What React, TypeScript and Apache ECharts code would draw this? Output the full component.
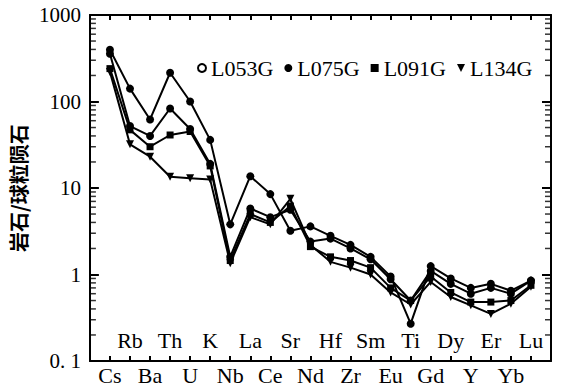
import React, { useEffect, useRef } from "react";
import * as echarts from "echarts";

const elements = ["Cs", "Rb", "Ba", "Th", "U", "K", "Nb", "La", "Ce", "Sr", "Nd", "Hf", "Zr", "Sm", "Eu", "Ti", "Gd", "Dy", "Y", "Er", "Yb", "Lu"];
const seriesNames = ["L053G", "L075G", "L091G", "L134G"];
const yTickLabels: Record<string, string> = { "0.1": "0. 1", "1": "1", "10": "10", "100": "100", "1000": "1000" };
const decades = [0.1, 1, 10, 100];
const minorSteps = [2, 3, 4, 5, 6, 7, 8, 9];

const L053G = [356, 52, 40, 83, 48, 19, 1.6, 5.8, 4.6, 5.6, 2.4, 2.6, 2.0, 1.5, 0.88, 0.5, 1.1, 0.78, 0.6, 0.7, 0.6, 0.85];
const L075G = [397, 141, 62, 215, 100, 36, 3.8, 13.7, 8.5, 3.2, 3.6, 2.8, 2.2, 1.6, 0.95, 0.27, 1.25, 0.9, 0.7, 0.78, 0.65, 0.85];
const L091G = [240, 47, 30, 41, 45, 18, 1.45, 5.0, 4.0, 6.2, 2.1, 1.6, 1.45, 1.2, 0.7, 0.5, 0.95, 0.62, 0.48, 0.48, 0.5, 0.75];
const L134G = [220, 32, 23, 13.5, 13, 12.5, 1.35, 4.6, 3.8, 7.5, 2.2, 1.4, 1.2, 1.0, 0.62, 0.45, 0.82, 0.55, 0.44, 0.35, 0.46, 0.72];

const seriesValues = [L053G, L075G, L091G, L134G];
const symbols = ["circle", "circle", "rect", "triangle"];
const legendIcons = ["emptyCircle", "circle", "rect", "path://M0,0 L10,0 L5,10 Z"];

const FONT = "Liberation Serif";

export default function App() {
  const ref = useRef<HTMLDivElement>(null);
  useEffect(() => {
    const chart = echarts.init(ref.current!, null, { renderer: "svg" });
    const axisLine = { show: true, onZero: false, lineStyle: { color: "#000", width: 2 } };
    const catRich = { s: { fontFamily: FONT, fontSize: 22, color: "#000" } };
    const xBase = {
      type: "value" as const,
      min: -1,
      max: 22,
      interval: 1,
      splitLine: { show: false },
    };
    const minorTickValues: number[] = [];
    decades.forEach((d) => minorSteps.forEach((s) => minorTickValues.push(d * s)));
    const minorTickSeries = (xEdge: number, offset: number) => ({
      name: "minorTicks" + xEdge,
      type: "scatter",
      xAxisIndex: 0,
      yAxisIndex: 0,
      silent: true,
      clip: false,
      z: 10,
      symbol: "rect",
      symbolSize: [6, 1.5],
      symbolOffset: [offset, 0],
      itemStyle: { color: "#000" },
      data: minorTickValues.map((v) => [xEdge, v]),
    });
    chart.setOption({
      animation: false,
      backgroundColor: "#fff",
      textStyle: { fontFamily: FONT, color: "#000" },
      grid: { left: 84, right: 13, top: 15, bottom: 31 },
      legend: {
        left: 192,
        top: 52,
        itemWidth: 8,
        itemHeight: 8,
        itemGap: 11,
        formatter: (n: string) => `{s|${n}}`,
        textStyle: { fontFamily: FONT, fontSize: 22, color: "#000", rich: { s: { fontFamily: FONT, fontSize: 22, color: "#000" } } },
        data: seriesNames.map((n, i) => ({ name: n, icon: legendIcons[i], itemStyle: { color: "#000", borderColor: "#000", borderWidth: i === 0 ? 2 : 0 } })),
      },
      xAxis: [
        {
          ...xBase,
          position: "bottom",
          axisLine,
          axisTick: { show: true, inside: true, length: 5, lineStyle: { color: "#000", width: 2 } },
          axisLabel: {
            show: true,
            margin: 3,
            fontFamily: FONT,
            fontSize: 22,
            color: "#000",
            rich: catRich,
            showMinLabel: false,
            showMaxLabel: false,
            formatter: (v: number) => (v >= 0 && v < elements.length && v % 2 === 0 ? `{s|${elements[v]}}` : ""),
          },
        },
        {
          ...xBase,
          position: "bottom",
          axisLine: { show: false },
          axisTick: { show: false },
          axisLabel: {
            show: true,
            inside: true,
            margin: 10,
            fontFamily: FONT,
            fontSize: 22,
            color: "#000",
            rich: catRich,
            showMinLabel: false,
            showMaxLabel: false,
            formatter: (v: number) => (v >= 0 && v < elements.length && v % 2 === 1 ? `{s|${elements[v]}}` : ""),
          },
        },
        {
          ...xBase,
          position: "top",
          axisLine,
          axisTick: { show: true, inside: true, length: 5, lineStyle: { color: "#000", width: 2 } },
          axisLabel: { show: false },
        },
      ],
      yAxis: [
        {
          type: "log",
          min: 0.1,
          max: 1000,
          logBase: 10,
          position: "left",
          name: "岩石/球粒陨石",
          nameLocation: "middle",
          nameGap: 50,
          nameRotate: 90,
          nameTextStyle: { fontFamily: "Noto Sans CJK SC", fontSize: 20, fontWeight: "bold", color: "#000" },
          axisLine,
          axisTick: { show: true, inside: true, length: 9, lineStyle: { color: "#000", width: 2 } },
          splitLine: { show: false },
          axisLabel: {
            margin: 9,
            fontFamily: FONT,
            fontSize: 21,
            color: "#000",
            rich: { s: { fontFamily: FONT, fontSize: 21, color: "#000" } },
            formatter: (v: number) => `{s|${yTickLabels[String(v)] ?? String(v)}}`,
          },
        },
        {
          type: "log",
          min: 0.1,
          max: 1000,
          logBase: 10,
          position: "right",
          axisLine,
          axisTick: { show: true, inside: true, length: 9, lineStyle: { color: "#000", width: 2 } },
          splitLine: { show: false },
          axisLabel: { show: false },
        },
      ],
      series: [
        ...seriesNames.map((name, i) => ({
          name,
          type: "line",
          xAxisIndex: 0,
          yAxisIndex: 0,
          data: seriesValues[i].map((v, k) => [k, v]),
          symbol: symbols[i],
          symbolSize: i === 2 ? 7 : 8,
          symbolRotate: i === 3 ? 180 : 0,
          showAllSymbol: true,
          lineStyle: { color: "#000", width: 2 },
          itemStyle: { color: "#000" },
          z: 3,
        })),
        minorTickSeries(-1, 3),
        minorTickSeries(22, -3),
      ],
    });
    return () => chart.dispose();
  }, []);
  return <div ref={ref} style={{ position: "absolute", left: 0, top: 0, width: 564, height: 392 }} />;
}
